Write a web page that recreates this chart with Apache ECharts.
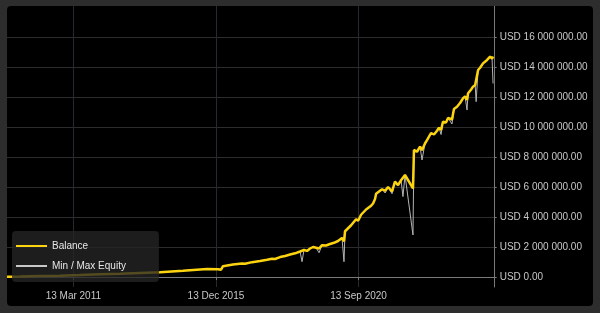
<!DOCTYPE html>
<html><head><meta charset="utf-8">
<script src="https://cdn.jsdelivr.net/npm/echarts@6/dist/echarts.min.js"></script>
<style>
html,body{margin:0;padding:0;background:#2d2d2d;width:600px;height:313px;overflow:hidden;}
#c{position:absolute;left:7px;top:6px;width:586px;height:300px;background:#000;border-radius:4px;overflow:hidden;}
</style></head><body>
<div id="c"></div>
<script>
// ---- data (values in USD millions) ----
const dates = [
'2008-12-26','2009-06-03','2010-01-31','2010-10-02','2011-06-03','2012-02-01','2012-10-02','2013-06-03','2014-02-01','2014-11-07',
'2015-06-03','2015-08-27','2016-01-07','2016-02-13','2016-03-08','2016-07-08','2016-10-26','2016-12-01','2017-02-25','2017-06-03',
'2017-08-27','2017-10-26','2017-12-01','2018-02-01','2018-04-03','2018-06-03','2018-08-03','2018-10-02','2018-10-26','2018-11-19',
'2018-12-26','2019-02-01','2019-03-09','2019-04-15','2019-05-21','2019-06-27','2019-08-14','2019-10-02','2019-11-19','2020-01-07',
'2020-02-25','2020-03-20','2020-04-02','2020-05-09','2020-06-15','2020-07-08','2020-08-14','2020-09-08','2020-10-14','2020-11-07',
'2020-12-14','2021-01-07','2021-02-13','2021-03-09','2021-04-02','2021-04-15','2021-05-21','2021-06-27','2021-08-03','2021-09-08',
'2021-10-02','2021-10-26','2021-12-01','2022-01-07','2022-02-13','2022-03-08','2022-04-02','2022-07-08','2022-07-20','2022-08-26',
'2022-10-02','2022-10-26','2022-12-01','2022-12-26','2023-01-19','2023-02-13','2023-03-21','2023-04-27','2023-05-21','2023-06-15',
'2023-07-08','2023-08-14','2023-09-08','2023-10-02','2023-10-26','2023-11-19','2023-12-26','2024-02-01','2024-03-08','2024-04-02',
'2024-04-26','2024-05-09','2024-06-15','2024-07-08','2024-08-03','2024-08-15','2024-09-08','2024-10-02','2024-11-07','2024-12-01',
'2024-12-26','2025-01-19','2025-02-01','2025-02-25','2025-03-09'];
const balance = [
0.02,0.03,0.06,0.09,0.13,0.18,0.22,0.27,0.32,0.42,
0.50,0.53,0.52,0.49,0.72,0.84,0.90,0.88,0.99,1.06,
1.15,1.22,1.20,1.33,1.40,1.50,1.58,1.70,1.62,1.80,
1.74,1.90,2.00,1.95,1.90,2.12,2.10,2.20,2.28,2.40,
2.60,2.38,3.05,3.25,3.45,3.40,3.85,3.75,4.15,4.10,
4.50,4.45,4.75,4.90,5.20,5.55,5.70,5.85,5.75,6.00,
5.95,5.70,6.36,6.13,6.45,6.35,6.80,5.91,8.47,8.35,
8.69,8.45,8.90,9.13,9.00,9.60,9.50,9.75,9.95,9.80,
10.35,10.30,10.60,10.69,10.50,11.20,11.35,11.60,11.91,12.05,
11.80,12.25,12.50,12.69,12.80,12.70,13.80,13.95,14.24,14.15,
14.47,14.40,14.69,14.55,14.70];
const minEquity = [
0.02,0.03,0.06,0.09,0.13,0.18,0.22,0.27,0.32,0.42,
0.50,0.53,0.52,0.49,0.72,0.84,0.90,0.88,0.99,1.06,
1.15,1.22,1.20,1.33,1.40,1.50,1.58,1.70,1.02,1.80,
1.74,1.90,2.00,1.95,1.62,2.12,2.10,2.20,2.28,2.40,
2.60,1.02,3.05,3.25,3.45,3.40,3.85,3.75,4.15,4.10,
4.50,4.45,4.75,4.90,5.20,5.55,5.70,5.85,5.60,6.00,
5.95,5.55,6.36,6.13,6.45,5.36,6.80,2.80,8.47,8.35,
8.69,7.80,8.90,9.13,9.00,9.60,9.50,9.75,9.95,9.50,
10.35,10.30,10.60,10.69,10.20,11.20,11.35,11.60,11.91,12.05,
11.13,12.25,12.50,12.69,12.80,11.69,13.80,13.95,14.24,14.15,
14.47,14.40,14.69,14.55,12.90];
const maxEquity = [
0.02,0.03,0.06,0.09,0.13,0.18,0.22,0.27,0.32,0.42,
0.50,0.53,0.52,0.49,0.72,0.84,0.90,0.88,0.99,1.06,
1.15,1.22,1.20,1.33,1.40,1.50,1.58,1.70,1.62,1.80,
1.74,1.90,2.00,1.95,1.90,2.12,2.10,2.20,2.28,2.40,
2.60,2.38,3.05,3.25,3.45,3.40,3.85,3.75,4.15,4.10,
4.50,4.45,4.75,4.90,5.20,5.55,5.70,5.85,5.75,6.00,
5.95,5.70,6.36,6.13,6.45,6.35,6.80,8.20,8.47,8.35,
8.69,8.45,8.90,9.13,9.00,9.60,9.50,9.75,9.95,9.80,
10.35,10.30,10.60,10.69,10.50,11.20,11.35,11.60,11.91,12.05,
11.80,12.25,12.50,12.69,12.80,12.70,13.80,13.95,14.24,14.15,
14.47,14.40,14.69,14.55,14.70];
const xTickDates = ['2011-03-13','2015-12-13','2020-09-13'];
const yTickValues = [0,2,4,6,8,10,12,14,16];
const xRange = ['2008-12-25','2025-03-29'];
const yRange = [-0.6667,18.0667];

// ---- build ----
const M = 1e6;
function ts(s){const p=s.split('-').map(Number);return Date.UTC(p[0],p[1]-1,p[2]);}
const months=['Jan','Feb','Mar','Apr','May','Jun','Jul','Aug','Sep','Oct','Nov','Dec'];
function fmtDate(v){const d=new Date(v);return d.getUTCDate()+' '+months[d.getUTCMonth()]+' '+d.getUTCFullYear();}
function fmtUSD(v){return 'USD '+String(Math.round(v)).replace(/\B(?=(\d{3})+(?!\d))/g,' ')+'.00';}
const pairs = arr => dates.map((d,i)=>[ts(d),arr[i]*M]);
const band = dates.map((d,i)=>[ts(d),(maxEquity[i]-minEquity[i])*M]);
const font = 'Liberation Sans, Arial, sans-serif';

const chart = echarts.init(document.getElementById('c'));
chart.setOption({
  animation:false,
  backgroundColor:'transparent',
  grid:{left:0,top:0,right:98.3,bottom:19,containLabel:false},
  legend:{
    left:5, top:225, orient:'vertical', icon:'rect', itemWidth:31, itemHeight:2, itemGap:6,
    padding:[8,33,9,4], backgroundColor:'rgba(37,37,37,0.78)', borderRadius:4,
    textStyle:{color:'#e6e6e6',fontSize:10,fontFamily:font,lineHeight:14},
    data:[{name:'Balance',itemStyle:{color:'#fcd30f'}},{name:'Min / Max Equity',itemStyle:{color:'#c8c8c8'}}]
  },
  xAxis:{
    type:'value', min:ts(xRange[0]), max:ts(xRange[1]),
    axisLine:{show:true,lineStyle:{color:'#7a7a7a',width:1}},
    axisTick:{show:true,length:3,lineStyle:{color:'#7a7a7a'},customValues:xTickDates.map(ts)},
    axisLabel:{color:'#c8c8c8',fontSize:10,fontFamily:font,margin:4,customValues:xTickDates.map(ts),formatter:fmtDate,hideOverlap:false},
    splitLine:{show:true,lineStyle:{color:'#262a30',width:1}}
  },
  yAxis:{
    type:'value', position:'right', min:yRange[0]*M, max:yRange[1]*M,
    axisLine:{show:true,lineStyle:{color:'#7a7a7a',width:1}},
    axisTick:{show:true,length:2,lineStyle:{color:'#7a7a7a'},customValues:yTickValues.map(v=>v*M)},
    axisLabel:{color:'#c8c8c8',fontSize:10,fontFamily:font,margin:5,customValues:yTickValues.map(v=>v*M),formatter:fmtUSD},
    splitLine:{show:true,lineStyle:{color:'#2c2c2c',width:1}}
  },
  series:[
    {name:'Min / Max Equity',type:'line',stack:'eq',data:pairs(minEquity),showSymbol:false,symbol:'none',
     color:'#c8c8c8',lineStyle:{color:'#b4b4b4',width:1},z:2},
    {name:'Min / Max Equity',type:'line',stack:'eq',data:band,showSymbol:false,symbol:'none',
     color:'#c8c8c8',lineStyle:{color:'#9a9a9a',width:1},areaStyle:{color:'rgba(120,120,120,0.45)'},z:2},
    {name:'Balance',type:'line',data:pairs(balance),showSymbol:false,symbol:'none',
     color:'#fcd30f',lineStyle:{color:'#fcd30f',width:2.5},z:3}
  ]
});
</script>
</body></html>
